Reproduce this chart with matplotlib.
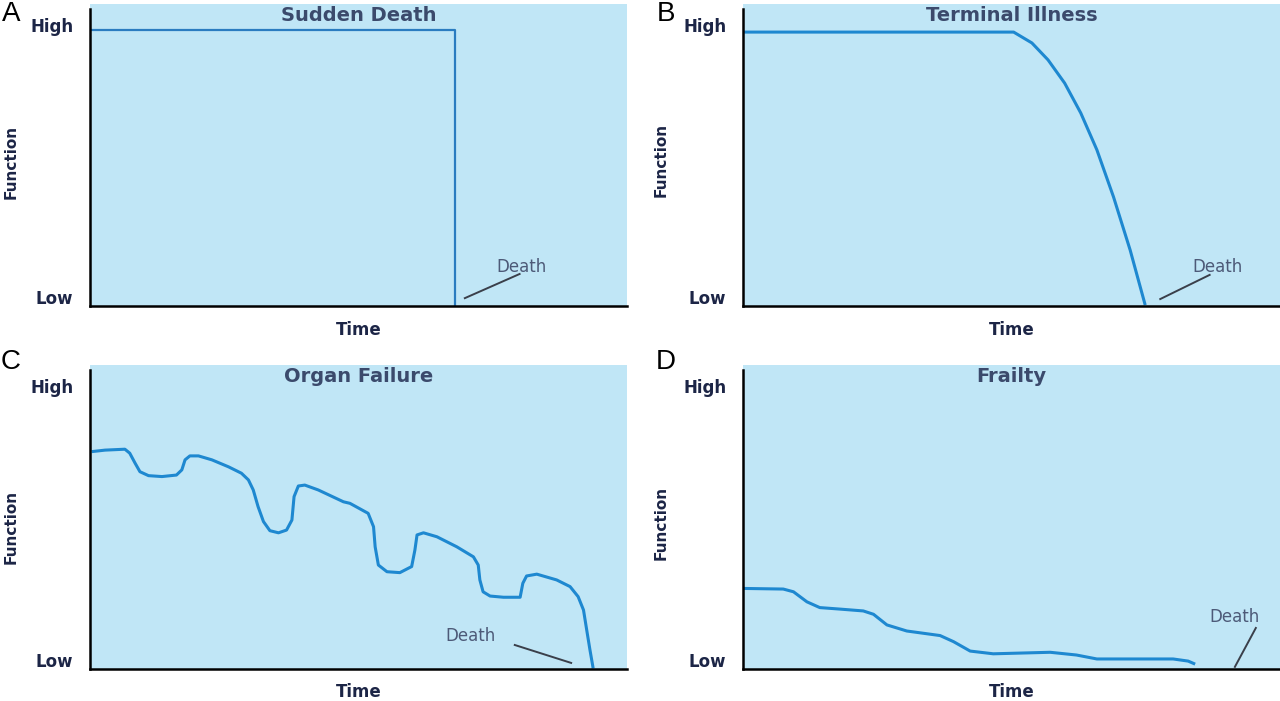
import numpy as np
import matplotlib
matplotlib.use('Agg')
import matplotlib.pyplot as plt

# ── Datos (tiempo 0-100, función 0-100) ──────────────────────────────────────

PANELES = ['A', 'B', 'C', 'D']
TITULOS = ['Sudden Death', 'Terminal Illness', 'Organ Failure', 'Frailty']

# A: función plena hasta la muerte súbita
t_sudden = [0.0, 68.0, 68.0]
f_sudden = [91.4, 91.4, 0.0]

# B: meseta y caída rápida al final
t_terminal = [0.0, 50.4, 53.8, 56.8, 59.9, 62.9, 65.9, 69.0, 72.1, 74.9]
f_terminal = [90.7, 90.7, 87.1, 81.5, 73.8, 63.9, 51.7, 36.1, 18.5, 0.3]

# C: descenso con exacerbaciones
t_organ = [0.3, 2.8, 6.5, 7.4, 8.4, 9.3, 10.9, 13.4, 16.1, 17.1, 17.7, 18.6,
           20.2, 22.7, 25.8, 28.2, 29.5, 30.4, 31.3, 32.3, 33.5, 35.1, 36.6,
           37.6, 38.0, 38.8, 40.0, 42.5, 47.2, 48.4, 51.8, 52.8, 53.1, 53.7,
           55.3, 57.7, 59.9, 60.5, 60.9, 62.1, 64.6, 68.3, 71.4, 72.3, 72.6,
           73.2, 74.5, 77.0, 80.1, 80.6, 81.3, 83.2, 86.9, 89.4, 90.9, 91.9,
           92.5, 93.1, 93.7]
f_organ = [71.5, 72.0, 72.3, 71.0, 67.7, 64.9, 63.6, 63.3, 63.8, 65.5, 68.8, 70.1,
           70.1, 68.8, 66.5, 64.4, 62.2, 58.9, 53.4, 48.5, 45.5, 44.8, 45.7,
           49.0, 56.7, 60.2, 60.5, 58.9, 55.0, 54.5, 51.2, 46.8, 40.2, 34.2,
           32.0, 31.7, 33.7, 39.1, 44.1, 44.8, 43.5, 40.2, 36.9, 34.2, 29.3,
           25.4, 24.0, 23.6, 23.6, 28.2, 30.6, 31.2, 29.3, 27.1, 23.8, 19.4,
           12.8, 6.3, 0.2]

# D: deterioro lento y prolongado
t_frailty = [0.1, 7.5, 9.4, 11.9, 14.3, 18.1, 22.4, 24.3, 26.8, 30.5, 36.7,
             39.2, 42.3, 46.6, 57.2, 62.1, 65.9, 80.1, 82.9, 84.2]
f_frailty = [26.5, 26.3, 25.4, 22.1, 20.2, 19.7, 19.1, 18.0, 14.5, 12.5, 11.0,
             9.0, 5.9, 5.0, 5.5, 4.6, 3.3, 3.3, 2.6, 1.6]

CURVAS = [(t_sudden, f_sudden), (t_terminal, f_terminal),
          (t_organ, f_organ), (t_frailty, f_frailty)]

# texto "Death" (x, y) y segmento (x0, y0, x1, y1) en unidades de datos
DEATH = [
    ((80.4, 12.9), (69.8, 2.6, 80.0, 10.6)),
    ((88.3, 12.9), (77.7, 2.3, 86.9, 10.3)),
    ((70.8, 10.8), (79.1, 7.9, 89.6, 2.0)),
    ((91.6, 17.1), (95.5, 13.5, 91.6, 0.7)),
]
Y_TICKS = [3.0, 93.0]
Y_LABELS = ['Low', 'High']

# ── Estilo ───────────────────────────────────────────────────────────────────

BG = '#c0e6f6'
LINEA = '#1e88d0'
NAVY = '#1c2546'
TITULO = '#3b4a6c'
GRIS = '#4d5a78'

W, H = 1280, 701
fig = plt.figure(figsize=(W / 100, H / 100), dpi=100)

# caja de cada panel en píxeles: (izq, arriba, der, abajo)
cajas = [(90, 4, 627, 306), (743, 4, 1280, 306),
         (90, 365, 627, 669), (743, 365, 1280, 669)]
letras_px = [(11, 14), (666, 14), (11, 362), (666, 362)]
ylabel_x_px = [19, 669, 19, 669]          # borde derecho de "Function"
ylabel_y = [0.477, 0.483, 0.467, 0.48]
xlabel_pad = [11, 11, 10, 10]

for i, (letra, titulo, (t, f), (txt, seg)) in enumerate(
        zip(PANELES, TITULOS, CURVAS, DEATH)):
    x0, y0, x1, y1 = cajas[i]
    ax = fig.add_axes([x0 / W, (H - y1) / H, (x1 - x0) / W, (y1 - y0) / H])
    ax.set_facecolor(BG)
    ax.set_xlim(0, 100)
    ax.set_ylim(0, 100)
    for s in ['top', 'right']:
        ax.spines[s].set_visible(False)
    for s in ['left', 'bottom']:
        ax.spines[s].set_color('black')
        ax.spines[s].set_linewidth(1.8)
    ax.spines['left'].set_bounds(0, 98.5)

    lw = 1.6 if i == 0 else 2.2
    col = '#2a7cc0' if i == 0 else LINEA
    ax.plot(t, f, color=col, lw=lw, solid_joinstyle='round',
            solid_capstyle='butt', clip_on=False)

    ax.set_xticks([])
    ax.set_yticks(Y_TICKS)
    ax.set_yticklabels(Y_LABELS, fontsize=12, fontweight='bold', color=NAVY)
    ax.tick_params(axis='y', length=0, pad=12)

    ax.set_xlabel('Time', fontsize=12, fontweight='bold', color=NAVY,
                  labelpad=xlabel_pad[i])
    ax.set_ylabel('Function', fontsize=11, fontweight='bold', color=NAVY)
    ax.yaxis.set_label_coords((ylabel_x_px[i] - x0) / (x1 - x0), ylabel_y[i])

    ax.text(0.5, 0.963, titulo, transform=ax.transAxes, ha='center', va='center',
            fontsize=14, fontweight='bold', color=TITULO)

    ax.text(txt[0], txt[1], 'Death', ha='center', va='center',
            fontsize=12, color=GRIS)
    ax.plot([seg[0], seg[2]], [seg[1], seg[3]], color='#3a3f4a', lw=1.4)

    lx, ly = letras_px[i]
    fig.text(lx / W, 1 - ly / H, letra, ha='center', va='center',
             fontsize=20, family='Liberation Sans', color='black')

fig.savefig('out.png', dpi=100, facecolor='white')
